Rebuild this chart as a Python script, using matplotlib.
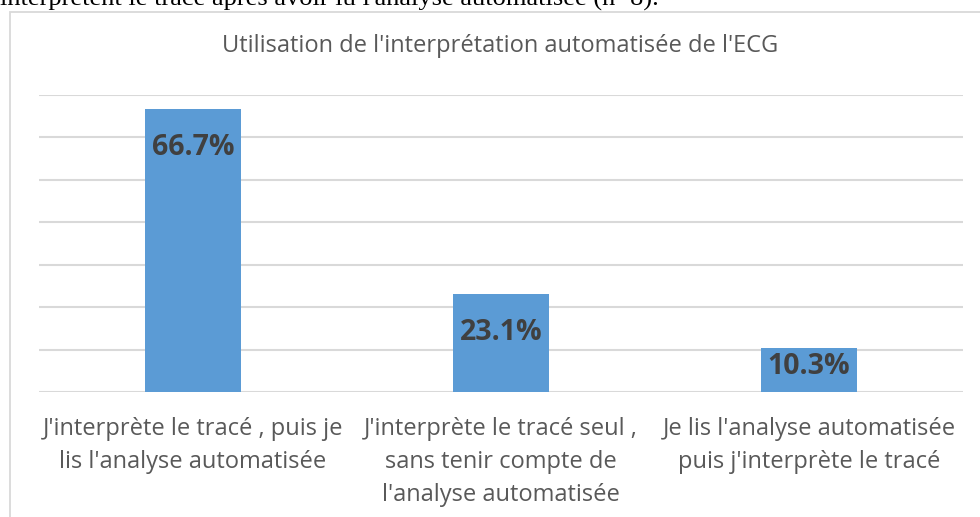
import matplotlib
matplotlib.use('Agg')
from matplotlib import pyplot as plt
from matplotlib.patches import Rectangle
import numpy as np

categories = ["J'interprète le tracé , puis je\nlis l'analyse automatisée",
              "J'interprète le tracé seul ,\nsans tenir compte de\nl'analyse automatisée",
              "Je lis l'analyse automatisée\npuis j'interprète le tracé"]
values = [66.7, 23.1, 10.3]
labels = ['66.7%', '23.1%', '10.3%']

W, H = 980, 517
fig = plt.figure(figsize=(W / 100, H / 100), dpi=100)
fig.patch.set_facecolor('white')

# bit of the document text above the chart, cut off at the top
fig.text(0.0, 1 - 6 / H, "interprètent le tracé après avoir lu l'analyse automatisée (n=8).",
         family='Liberation Serif', fontsize=19, color='black', ha='left', va='baseline')

# chart frame
fig.patches.append(Rectangle((10 / W, -0.05), 1.2, 1 - 12 / H + 0.05, transform=fig.transFigure,
                             fill=False, edgecolor='#d9d9d9', lw=1.3))

ax = fig.add_axes([39 / W, (H - 392) / H, (963 - 39) / W, (392 - 95) / H])
x = np.arange(len(values))
bars = ax.bar(x, values, 0.31, color='#5b9bd5', zorder=3)
ax.set_xlim(-0.5, 2.5)
ax.set_ylim(0, 70)
ax.set_yticks(np.arange(0, 71, 10))
ax.grid(axis='y', color='#d9d9d9', lw=1.5, zorder=0)
ax.tick_params(left=False, bottom=False, labelleft=False, labelbottom=False)
for s in ax.spines.values():
    s.set_visible(False)

# labels at the inside end, pushed up when the bar is short (like excel)
px_per_unit = (392 - 95) / 70
for i, (v, lab) in enumerate(zip(values, labels)):
    bar_px = v * px_per_unit
    off = min(24, (bar_px - 36) / 2)
    ax.annotate(lab, (x[i], v), xytext=(0, -off), textcoords='offset pixels',
                ha='center', va='top', family='Open Sans', fontweight='bold',
                fontsize=20.5, color='#404040', zorder=4)

for i, cat in enumerate(categories):
    ax.annotate(cat, (x[i], 0), xytext=(0, -25), textcoords='offset pixels',
                ha='center', va='top', family='Open Sans', fontsize=17,
                color='#595959', linespacing=1.5)

fig.text(500 / W, 1 - 46 / H, "Utilisation de l'interprétation automatisée de l'ECG",
         family='Open Sans', fontsize=17, color='#595959', ha='center', va='center')

fig.savefig('out.png', dpi=100)
